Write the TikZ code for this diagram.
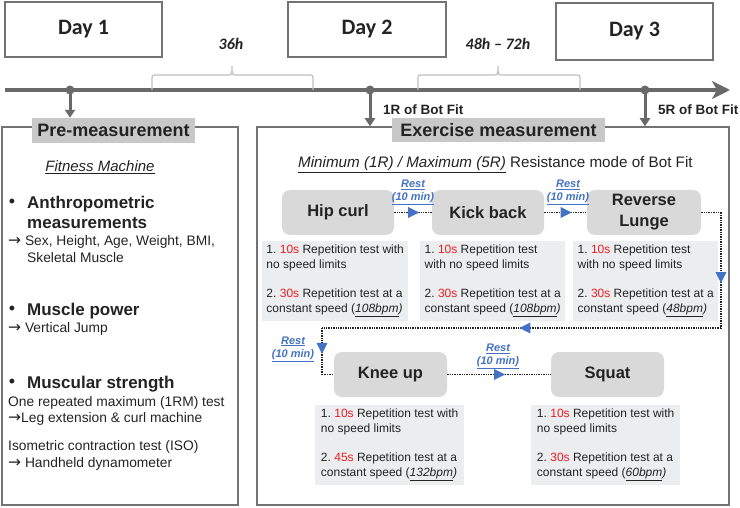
\documentclass[tikz,border=0pt]{standalone}
\usepackage{fontspec}
\setmainfont{Liberation Sans}
\newfontfamily\dayfont{Carlito}
\newfontfamily\arrowfont{DejaVu Sans}
\usetikzlibrary{arrows.meta,decorations.markings,calc}
\frenchspacing

\definecolor{tlgray}{RGB}{105,105,105}
\definecolor{framegray}{RGB}{115,115,115}
\definecolor{labelfill}{RGB}{200,200,200}
\definecolor{exfill}{RGB}{217,217,217}
\definecolor{descfill}{RGB}{236,237,238}
\definecolor{bracegray}{RGB}{190,190,190}
\definecolor{secred}{RGB}{237,28,36}
\definecolor{restblue}{RGB}{68,114,196}
\definecolor{ink}{RGB}{35,35,35}

\newcommand{\secs}[1]{\textcolor{secred}{#1}}
\newcommand{\bpm}[1]{(\underline{\textit{#1}}\textit{)}}
\newcommand{\toarrow}{{\arrowfont\fontsize{15.5}{16}\selectfont →}}

\tikzset{
  daybox/.style={draw=framegray, line width=1.3pt, fill=white, inner sep=0pt,
    font=\dayfont\bfseries\fontsize{22}{24}\selectfont, text=ink},
  gaplabel/.style={font=\dayfont\bfseries\itshape\fontsize{16}{18}\selectfont, text=ink, inner sep=0pt},
  frame/.style={draw=framegray, line width=1.5pt, inner sep=0pt},
  seclabel/.style={fill=labelfill, inner sep=0pt, text=ink,
    font=\bfseries\fontsize{18}{20}\selectfont},
  heading/.style={anchor=base west, inner sep=0pt, text=ink,
    font=\bfseries\fontsize{17}{20}\selectfont},
  body/.style={anchor=base west, inner sep=0pt, text=ink,
    font=\fontsize{13.8}{16}\selectfont},
  bul/.style={inner sep=0pt, text=ink, font=\fontsize{18}{20}\selectfont},
  botfit/.style={anchor=base west, inner sep=0pt, text=ink,
    font=\bfseries\fontsize{13.5}{16}\selectfont},
  exbox/.style={fill=exfill, rounded corners=8pt, inner sep=0pt,
    minimum height=45, text=ink, align=center,
    font=\bfseries\fontsize{16.5}{20}\selectfont},
  desc/.style={fill=descfill, anchor=north west, inner xsep=2pt, inner ysep=4pt,
    align=left, text=ink, font=\fontsize{12}{14.7}\selectfont},
  rest/.style={inner sep=0pt, align=center, text=restblue,
    font=\bfseries\itshape\fontsize{11}{13}\selectfont},
  restlink/.style={draw=ink, densely dotted, line width=1.4pt},
  midtri/.style={decoration={markings, mark=at position #1 with
      {\fill[restblue] (6pt,0pt) -- (-5pt,5.5pt) -- (-5pt,-5.5pt) -- cycle;}},
    postaction={decorate}},
  drop/.style={draw=tlgray, line width=3pt, -{Triangle[length=8pt,width=10pt]}},
}

\begin{document}
\begin{tikzpicture}[x=1pt,y=-1pt]
\useasboundingbox (0,0) rectangle (740,508);

% --- day headers
\node[daybox, minimum width=157, minimum height=55] (day1) at (83.5,29.5) {Day 1};
\node[daybox, minimum width=158, minimum height=55] (day2) at (367,29.5) {Day 2};
\node[daybox, minimum width=157, minimum height=57] (day3) at (634.5,31.5) {Day 3};

% --- time axis
\coordinate (tl0) at (5,90);
\coordinate (tl1) at (730,90);
\draw[tlgray, line width=4pt, -{Stealth[length=18pt,width=18pt,inset=5pt]}] (tl0) -- (tl1);
\coordinate (d1) at (70,90);
\coordinate (d2) at (370,90);
\coordinate (d3) at (645,90);
\foreach \d in {d1,d2,d3} \fill[tlgray] (\d) circle (4.5pt);

% --- intervals between days
\draw[bracegray, line width=1.2pt] (152,90) -- (152,80) .. controls (152,75) .. (157,75)
  -- (227,75) .. controls (232,75) .. (232,66) .. controls (232,75) .. (237,75)
  -- (308,75) .. controls (313,75) .. (313,80) -- (313,90);
\draw[bracegray, line width=1.2pt] (418,90) -- (418,80) .. controls (418,75) .. (423,75)
  -- (493,75) .. controls (498,75) .. (498,66) .. controls (498,75) .. (503,75)
  -- (575,75) .. controls (580,75) .. (580,80) -- (580,90);
\node[gaplabel] (gap1) at (231,44) {36h};
\node[gaplabel] (gap2) at (498,44) {48h – 72h};

% --- section frames
\node[frame, minimum width=236, minimum height=378] (prebox) at (120,316) {};
\node[frame, minimum width=472, minimum height=378] (exbox) at (493,316) {};
\node[seclabel, minimum width=163, minimum height=25] (prelabel) at (113.5,130.5) {Pre-measurement};
\node[seclabel, minimum width=213, minimum height=24] (exlabel) at (498.5,130) {Exercise measurement};

\draw[drop] (d1) -- (d1 |- prelabel.north);
\draw[drop] (d2) -- (d2 |- exbox.north);
\draw[drop] (d3) -- (d3 |- exbox.north);
\node[botfit] (bf1) at (383,114.5) {1R of Bot Fit};
\node[botfit] (bf5) at (658,114.5) {5R of Bot Fit};

% --- pre-measurement contents
\node[inner sep=0pt, text=ink, font=\itshape\fontsize{15}{17}\selectfont] (fitness) at (100,167) {\underline{Fitness Machine}};
\node[bul] (bul1) at (12,203) {•};
\node[heading] (anth1) at (27,208.6) {Anthropometric};
\node[heading] (anth2) at (27,228.6) {measurements};
\node[body] (anth3) at (8,245.5) {\toarrow{} Sex, Height, Age, Weight, BMI,};
\node[body] (anth4) at (27,262.5) {Skeletal Muscle};
\node[bul] (bul2) at (12,310) {•};
\node[heading] (pow1) at (27,315.6) {Muscle power};
\node[body] (pow2) at (8,332.5) {\toarrow{} Vertical Jump};
\node[bul] (bul3) at (12,383) {•};
\node[heading] (str1) at (27,388.6) {Muscular strength};
\node[body] (str2) at (8,406.5) {One repeated maximum (1RM) test};
\node[body] (str3) at (8,422.5) {\toarrow{}Leg extension \& curl machine};
\node[body] (str4) at (8,450.5) {Isometric contraction test (ISO)};
\node[body] (str5) at (8,467.5) {\toarrow{} Handheld dynamometer};

% --- exercise measurement contents
\node[anchor=base west, inner sep=0pt, text=ink, font=\fontsize{15.2}{17}\selectfont] (mode) at (298,168)
  {\underline{\textit{Minimum (1R) / Maximum (5R)}} Resistance mode of Bot Fit};

\node[exbox, minimum width=112] (hip) at (338,212.5) {Hip curl};
\node[exbox, minimum width=112] (kick) at (488,212.5) {Kick back};
\node[exbox, minimum width=114, font=\bfseries\fontsize{16.5}{21}\selectfont] (rl) at (644,212.5) {Reverse\\Lunge};
\node[exbox, minimum width=113] (knee) at (390.5,374.5) {Knee up};
\node[exbox, minimum width=113] (squat) at (607.5,374.5) {Squat};

\node[desc, minimum width=146] (hipdesc) at (262,241) {1. \secs{10s} Repetition test with\\no speed limits\\[14.7pt]2. \secs{30s} Repetition test at a\\constant speed \bpm{108bpm}};
\node[desc, minimum width=145] (kickdesc) at (420,241) {1. \secs{10s} Repetition test\\with no speed limits\\[14.7pt]2. \secs{30s} Repetition test at a\\constant speed \bpm{108bpm}};
\node[desc, minimum width=145] (rldesc) at (573,241) {1. \secs{10s} Repetition test\\with no speed limits\\[14.7pt]2. \secs{30s} Repetition test at a\\constant speed \bpm{48bpm}};
\node[desc, minimum width=149] (kneedesc) at (315,405) {1. \secs{10s} Repetition test with\\no speed limits\\[14.7pt]2. \secs{45s} Repetition test at a\\constant speed \bpm{132bpm}};
\node[desc, minimum width=149] (squatdesc) at (531,405) {1. \secs{10s} Repetition test with\\no speed limits\\[14.7pt]2. \secs{30s} Repetition test at a\\constant speed \bpm{60bpm}};

% --- rest intervals between exercises
\node[rest] (rest1) at (413,192.5) {\underline{Rest}\\\underline{(10 min)}};
\node[rest] (rest2) at (568,192.5) {\underline{Rest}\\\underline{(10 min)}};
\node[rest] (rest3) at (293,349) {\underline{Rest}\\\underline{(10 min)}};
\node[rest] (rest4) at (498,356.5) {\underline{Rest}\\\underline{(10 min)}};

\coordinate (c1) at (721,212.5);
\coordinate (c2) at (721,328);
\coordinate (c3) at (322,328);
\coordinate (c4) at (322,374.5);

\draw[restlink, midtri=0.5] (hip.east) -- (kick.west);
\draw[restlink, midtri=0.5] (kick.east) -- (rl.west);
\draw[restlink] (rl.east) -- (c1);
\draw[restlink, midtri=0.56] (c1) -- (c2);
\draw[restlink, midtri=0.49] (c2) -- (c3);
\draw[restlink, midtri=0.43] (c3) -- (c4);
\draw[restlink] (c4) -- (knee.west);
\draw[restlink, midtri=0.5] (knee.east) -- (squat.west);
\end{tikzpicture}
\end{document}
